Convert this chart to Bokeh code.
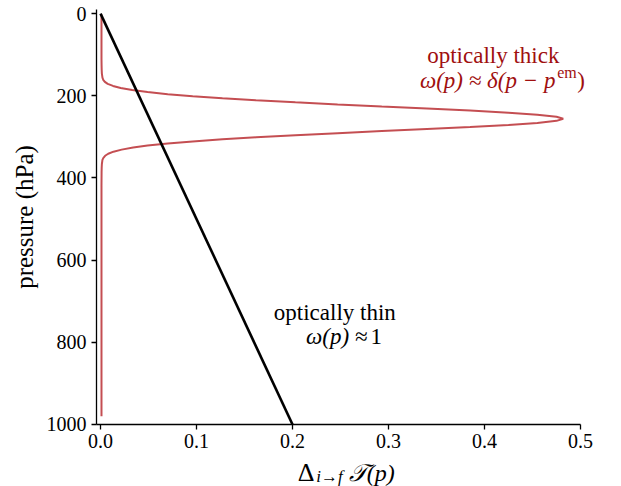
from bokeh.plotting import figure
from bokeh.models import Range1d, Label, FixedTicker, NumeralTickFormatter
from bokeh.embed import file_html
from bokeh.resources import INLINE

# ---- data ----
# optically thin: linear profile
thin_x = [0.0, 0.2]
thin_p = [0.0, 1000.0]

# optically thick: sharply peaked profile around ~256 hPa
thick_p = [2, 40, 80, 110, 126, 136, 146, 156, 161, 166, 171, 176, 181, 186, 191,
           196, 201, 206, 211, 216, 221, 226, 231, 236, 241, 246, 251, 256,
           261, 266, 271, 276, 281, 286, 291, 296, 301, 306, 311, 316, 321, 326,
           331, 336, 341, 346, 351, 356, 366, 376, 386, 420, 500, 700, 980]
thick_x = [0.001, 0.001, 0.001, 0.001, 0.0011, 0.0012, 0.0014, 0.002, 0.0028, 0.0045,
           0.0075, 0.013, 0.021, 0.033, 0.049, 0.070, 0.096, 0.127, 0.162, 0.203,
           0.247, 0.293, 0.340, 0.385, 0.425, 0.455, 0.475, 0.482,
           0.475, 0.455, 0.425, 0.385, 0.340, 0.293, 0.247, 0.203, 0.162, 0.127,
           0.096, 0.070, 0.049, 0.034, 0.022, 0.0135, 0.008, 0.0048, 0.003, 0.002,
           0.0014, 0.0012, 0.0011, 0.001, 0.001, 0.001, 0.001]

x_ticks = [0.0, 0.1, 0.2, 0.3, 0.4, 0.5]
y_ticks = [0, 200, 400, 600, 800, 1000]

SERIF = "Liberation Serif"
RED = "#c44e52"
DARKRED = "#a00f0f"

# the frame covers the whole canvas; the axes are placed at fixed data
# locations and bounded to the data extent, like the reference's spines
p = figure(width=621, height=486, output_backend="svg", toolbar_location=None,
           x_range=Range1d(-0.1042, 0.5427), y_range=Range1d(1150.9, -31.9),
           min_border_left=0, min_border_right=0, min_border_top=0,
           min_border_bottom=0)
p.outline_line_color = None
p.xgrid.visible = False
p.ygrid.visible = False
p.background_fill_color = "white"
p.border_fill_color = "white"

p.line(thick_x, thick_p, line_color=RED, line_width=2)
p.line(thin_x, thin_p, line_color="black", line_width=2.6)

for ax in (p.xaxis[0], p.yaxis[0]):
    ax.major_label_text_font = SERIF
    ax.major_label_text_font_size = "20px"
    ax.major_label_text_color = "black"
    ax.axis_line_color = "black"
    ax.axis_line_width = 1.3
    ax.major_tick_line_color = "black"
    ax.major_tick_line_width = 1.3
    ax.major_tick_in = 0
    ax.major_tick_out = 5
    ax.minor_tick_line_color = None
    ax.major_label_standoff = 5

p.xaxis[0].ticker = FixedTicker(ticks=x_ticks)
p.xaxis[0].formatter = NumeralTickFormatter(format="0.0")
p.xaxis[0].bounds = (-0.0042, 0.5)
p.xaxis[0].fixed_location = 1000
p.yaxis[0].ticker = FixedTicker(ticks=y_ticks)
p.yaxis[0].bounds = (-10, 1000)
p.yaxis[0].fixed_location = -0.0042
p.yaxis[0].axis_label = "pressure (hPa)"
p.yaxis[0].axis_label_text_font = SERIF
p.yaxis[0].axis_label_text_font_size = "25px"
p.yaxis[0].axis_label_text_font_style = "normal"
p.yaxis[0].axis_label_text_color = "black"
p.yaxis[0].axis_label_standoff = 6


def lab(x, y, text, size, color="black", style="normal", align="left"):
    p.add_layout(Label(x=x, y=y, text=text, text_font=SERIF,
                       text_font_size=size, text_color=color,
                       text_font_style=style, text_align=align,
                       text_baseline="alphabetic"))


# annotations
lab(0.3403, 101.0, "optically thick", "23px", DARKRED)
lab(0.4739, 162.5, "ω(p) ≈ δ(p − p", "23px", DARKRED, "italic", "right")
lab(0.4757, 142.3, "em", "16px", DARKRED)
lab(0.4965, 162.5, ")", "23px", DARKRED)

lab(0.1805, 728.0, "optically thin", "23px")
lab(0.2781, 786.3, "ω(p) ≈", "23px", "black", "italic", "right")
lab(0.2812, 786.3, "1", "23px")

# x axis label: Δ_{i→f} 𝒯(p)
lab(0.2055, 1117.3, "Δ", "26px")
lab(0.2247, 1126.3, "i→f", "17px", "black", "italic")
lab(0.2586, 1117.3, "𝒯(p)", "24px", "black", "italic")

open("out.html", "w").write(file_html(p, INLINE))
